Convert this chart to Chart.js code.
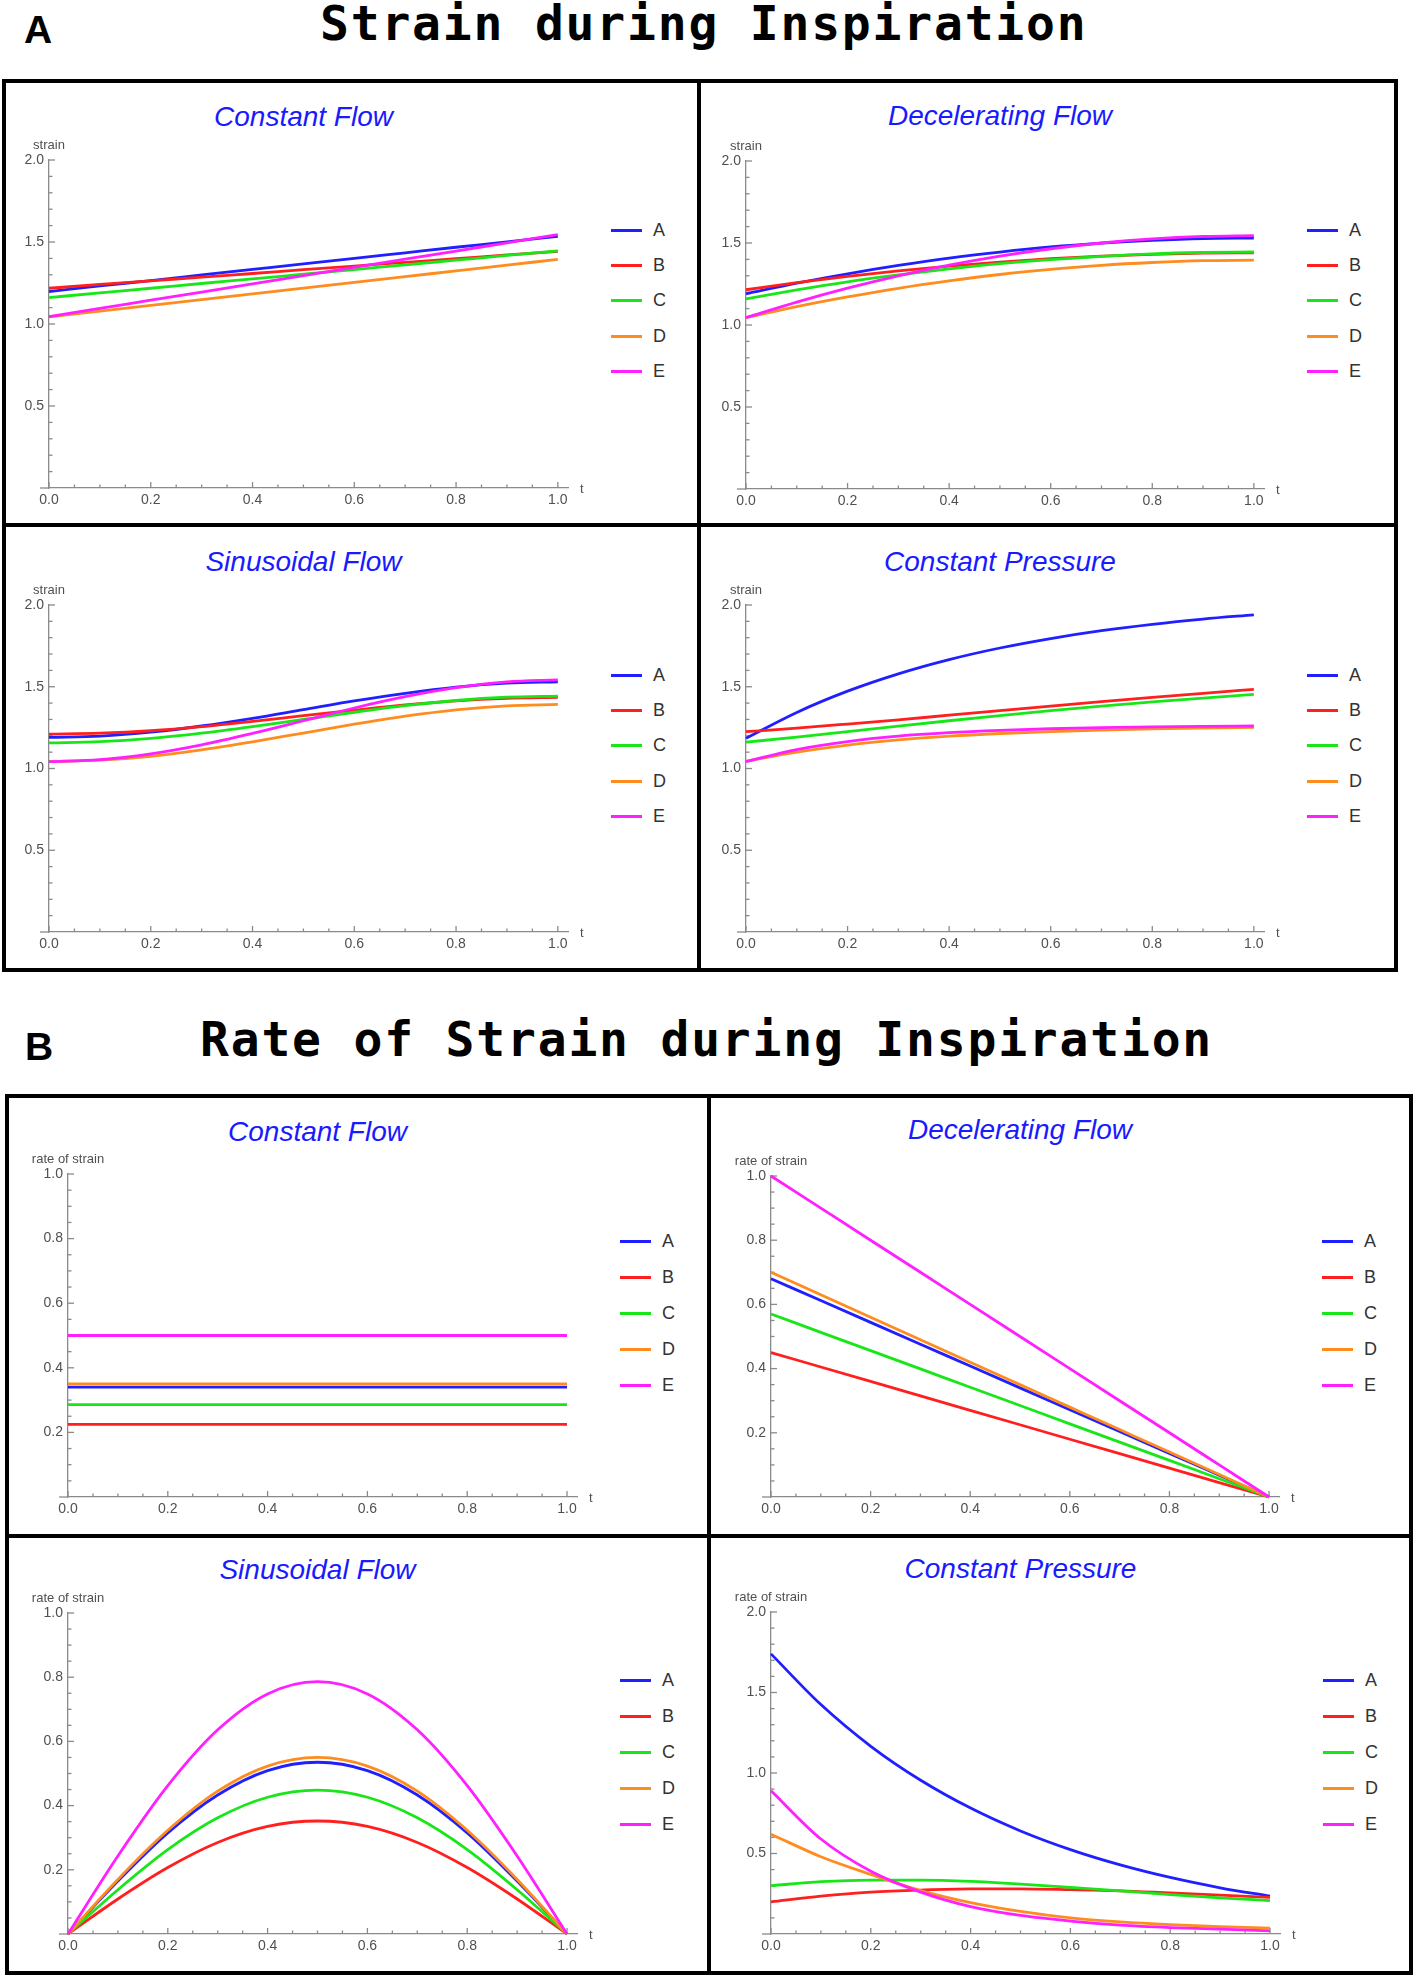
<!DOCTYPE html>
<html>
<head>
<meta charset="utf-8">
<script src="https://cdn.jsdelivr.net/npm/chart.js@4.4.1/dist/chart.umd.min.js"></script>
<style>
  body { margin: 0; width: 1416px; height: 1976px; position: relative; overflow: hidden; background: #fff; font-family: "Liberation Sans", Arial, sans-serif; }
  .fig-label { position: absolute; font: bold 39px/39px "Liberation Sans", Arial, sans-serif; color: #000; }
  .fig-title { position: absolute; font: bold 48px/48px "DejaVu Sans Mono", monospace; letter-spacing: 1.8px; white-space: nowrap; color: #000; }
  .frame { position: absolute; border: 4px solid #000; box-sizing: border-box; }
  .rule { position: absolute; background: #000; }
  .panel-title { position: absolute; font: italic 28px/28px "Liberation Sans", Arial, sans-serif; color: #1a1aff; white-space: nowrap; transform: translateX(-50%); }
  .legend-row { position: absolute; display: flex; align-items: center; font: 18px "Liberation Sans", Arial, sans-serif; color: #333; }
  .legend-row span { display: inline-block; width: 31px; height: 3px; margin-right: 11px; }
  canvas { position: absolute; }
</style>
</head>
<body>
<div class="fig-label" style="left:24px;top:10px">A</div>
<div class="fig-title" style="left:320px;top:-1px">Strain during Inspiration</div>
<div class="fig-label" style="left:25px;top:1027px">B</div>
<div class="fig-title" style="left:200px;top:1015px">Rate of Strain during Inspiration</div>

<div class="frame" style="left:2px;top:79px;width:1396px;height:893px"></div>
<div class="rule" style="left:697px;top:79px;width:4px;height:893px"></div>
<div class="rule" style="left:2px;top:523px;width:1396px;height:4px"></div>

<div class="frame" style="left:5px;top:1094px;width:1408px;height:881px"></div>
<div class="rule" style="left:707px;top:1094px;width:4px;height:881px"></div>
<div class="rule" style="left:5px;top:1534px;width:1408px;height:4px"></div>

<script>
// time samples shared by every curve
const tValues = [0, 0.1, 0.2, 0.3, 0.4, 0.5, 0.6, 0.7, 0.8, 0.9, 1.0];
const seriesNames = ['A', 'B', 'C', 'D', 'E'];

// strain, rows A..E
const strainConstantFlow = [
  [1.198, 1.232, 1.265, 1.299, 1.333, 1.367, 1.400, 1.434, 1.468, 1.501, 1.535],
  [1.218, 1.241, 1.263, 1.286, 1.308, 1.331, 1.353, 1.376, 1.398, 1.421, 1.443],
  [1.161, 1.190, 1.218, 1.247, 1.275, 1.304, 1.332, 1.361, 1.389, 1.418, 1.446],
  [1.044, 1.079, 1.114, 1.149, 1.184, 1.219, 1.254, 1.289, 1.324, 1.359, 1.394],
  [1.045, 1.095, 1.145, 1.195, 1.245, 1.295, 1.345, 1.395, 1.445, 1.495, 1.545]
];
const strainDeceleratingFlow = [
  [1.190, 1.255, 1.312, 1.363, 1.408, 1.445, 1.476, 1.499, 1.516, 1.527, 1.530],
  [1.215, 1.258, 1.296, 1.330, 1.359, 1.384, 1.404, 1.420, 1.431, 1.438, 1.440],
  [1.160, 1.214, 1.263, 1.305, 1.342, 1.374, 1.399, 1.419, 1.434, 1.442, 1.445],
  [1.045, 1.112, 1.171, 1.224, 1.269, 1.308, 1.339, 1.364, 1.381, 1.392, 1.395],
  [1.045, 1.140, 1.225, 1.300, 1.365, 1.420, 1.465, 1.500, 1.525, 1.540, 1.545]
];
const strainSinusoidalFlow = [
  [1.190, 1.198, 1.222, 1.260, 1.307, 1.360, 1.413, 1.460, 1.498, 1.522, 1.530],
  [1.210, 1.216, 1.231, 1.256, 1.288, 1.323, 1.357, 1.389, 1.414, 1.429, 1.435],
  [1.157, 1.164, 1.184, 1.216, 1.256, 1.300, 1.344, 1.384, 1.416, 1.436, 1.443],
  [1.042, 1.051, 1.075, 1.114, 1.163, 1.217, 1.271, 1.320, 1.359, 1.383, 1.392],
  [1.042, 1.054, 1.090, 1.145, 1.215, 1.292, 1.370, 1.439, 1.494, 1.530, 1.542]
];
const strainConstantPressure = [
  [1.185, 1.343, 1.473, 1.579, 1.666, 1.737, 1.795, 1.843, 1.882, 1.914, 1.940],
  [1.225, 1.247, 1.272, 1.298, 1.326, 1.354, 1.382, 1.409, 1.435, 1.460, 1.484],
  [1.161, 1.192, 1.225, 1.259, 1.292, 1.324, 1.354, 1.382, 1.407, 1.431, 1.453],
  [1.045, 1.100, 1.143, 1.175, 1.198, 1.214, 1.226, 1.235, 1.242, 1.247, 1.251],
  [1.042, 1.116, 1.165, 1.198, 1.219, 1.233, 1.243, 1.250, 1.255, 1.258, 1.260]
];

// rate of strain, rows A..E
const rateConstantFlow = [
  [0.34, 0.34, 0.34, 0.34, 0.34, 0.34, 0.34, 0.34, 0.34, 0.34, 0.34],
  [0.225, 0.225, 0.225, 0.225, 0.225, 0.225, 0.225, 0.225, 0.225, 0.225, 0.225],
  [0.286, 0.286, 0.286, 0.286, 0.286, 0.286, 0.286, 0.286, 0.286, 0.286, 0.286],
  [0.35, 0.35, 0.35, 0.35, 0.35, 0.35, 0.35, 0.35, 0.35, 0.35, 0.35],
  [0.5, 0.5, 0.5, 0.5, 0.5, 0.5, 0.5, 0.5, 0.5, 0.5, 0.5]
];
const rateDeceleratingFlow = [
  [0.68, 0.612, 0.544, 0.476, 0.408, 0.34, 0.272, 0.204, 0.136, 0.068, 0],
  [0.45, 0.405, 0.36, 0.315, 0.27, 0.225, 0.18, 0.135, 0.09, 0.045, 0],
  [0.57, 0.513, 0.456, 0.399, 0.342, 0.285, 0.228, 0.171, 0.114, 0.057, 0],
  [0.70, 0.63, 0.56, 0.49, 0.42, 0.35, 0.28, 0.21, 0.14, 0.07, 0],
  [1.0, 0.9, 0.8, 0.7, 0.6, 0.5, 0.4, 0.3, 0.2, 0.1, 0]
];
const rateSinusoidalFlow = [
  [0, 0.165, 0.315, 0.433, 0.509, 0.535, 0.509, 0.433, 0.315, 0.165, 0],
  [0, 0.109, 0.207, 0.285, 0.335, 0.352, 0.335, 0.285, 0.207, 0.109, 0],
  [0, 0.138, 0.263, 0.362, 0.426, 0.448, 0.426, 0.362, 0.263, 0.138, 0],
  [0, 0.170, 0.323, 0.445, 0.523, 0.550, 0.523, 0.445, 0.323, 0.170, 0],
  [0, 0.243, 0.462, 0.636, 0.748, 0.786, 0.748, 0.636, 0.462, 0.243, 0]
];
const rateConstantPressure = [
  [1.74, 1.425, 1.166, 0.955, 0.782, 0.640, 0.524, 0.429, 0.351, 0.287, 0.235],
  [0.20, 0.235, 0.26, 0.273, 0.28, 0.28, 0.275, 0.268, 0.255, 0.242, 0.228],
  [0.30, 0.325, 0.335, 0.335, 0.327, 0.31, 0.29, 0.268, 0.245, 0.225, 0.207],
  [0.62, 0.48, 0.37, 0.27, 0.195, 0.14, 0.10, 0.075, 0.058, 0.046, 0.037],
  [0.89, 0.59, 0.39, 0.26, 0.17, 0.115, 0.08, 0.055, 0.04, 0.03, 0.02]
];

const panelTitles = ['Constant Flow', 'Decelerating Flow', 'Sinusoidal Flow', 'Constant Pressure',
                     'Constant Flow', 'Decelerating Flow', 'Sinusoidal Flow', 'Constant Pressure'];
const panelSeries = [strainConstantFlow, strainDeceleratingFlow, strainSinusoidalFlow, strainConstantPressure,
                     rateConstantFlow, rateDeceleratingFlow, rateSinusoidalFlow, rateConstantPressure];
const yAxisTitles = ['strain', 'strain', 'strain', 'strain',
                     'rate of strain', 'rate of strain', 'rate of strain', 'rate of strain'];
const yAxisMax = [2, 2, 2, 2, 1, 1, 1, 2];
const yMajorStep = [0.5, 0.5, 0.5, 0.5, 0.2, 0.2, 0.2, 0.5];
const yMinorStep = [0.1, 0.1, 0.1, 0.1, 0.05, 0.05, 0.05, 0.1];
const tMajorStep = 0.2;
const tMinorStep = 0.05;

// styling / placement
const lineColors = ['#1f1fff', '#ff1f1f', '#19e619', '#ff8c1f', '#ff1fff'];
const axisColor = '#8a8a8a';
const labelColor = '#505050';
const frames = [
  { x0: 49,  x1: 558,  yTop: 160,  y0: 488,  titleBase: 127,  legendMid: 301,  rowH: 35.4 },
  { x0: 746, x1: 1254, yTop: 161,  y0: 489,  titleBase: 126,  legendMid: 301,  rowH: 35.4 },
  { x0: 49,  x1: 558,  yTop: 605,  y0: 932,  titleBase: 572,  legendMid: 746,  rowH: 35.4 },
  { x0: 746, x1: 1254, yTop: 605,  y0: 932,  titleBase: 572,  legendMid: 746,  rowH: 35.4 },
  { x0: 68,  x1: 567,  yTop: 1174, y0: 1497, titleBase: 1142, legendMid: 1313, rowH: 36 },
  { x0: 771, x1: 1269, yTop: 1176, y0: 1497, titleBase: 1140, legendMid: 1313, rowH: 36 },
  { x0: 68,  x1: 567,  yTop: 1613, y0: 1934, titleBase: 1580, legendMid: 1752, rowH: 36 },
  { x0: 771, x1: 1270, yTop: 1612, y0: 1934, titleBase: 1579, legendMid: 1752, rowH: 36 }
];
const ML = 60, MT = 26, MR = 25, MB = 30;
const T_END = 1.02;

// inward Mathematica-style ticks plus axis captions
const axisDecor = {
  id: 'axisDecor',
  beforeDatasetsDraw(chart, args, opts) {
    const { ctx, chartArea: { left, right, top, bottom }, scales: { x, y } } = chart;
    ctx.save();
    ctx.strokeStyle = axisColor;
    ctx.lineWidth = 1.3;
    const nt = Math.round(1 / tMinorStep), tEvery = Math.round(tMajorStep / tMinorStep);
    for (let i = 0; i <= nt; i++) {
      const px = x.getPixelForValue(i * tMinorStep);
      const len = i % tEvery === 0 ? 6 : 3.5;
      ctx.beginPath(); ctx.moveTo(px, bottom); ctx.lineTo(px, bottom - len); ctx.stroke();
    }
    const ny = Math.round(y.max / opts.minor), yEvery = Math.round(opts.major / opts.minor);
    for (let i = 1; i <= ny; i++) {
      const py = y.getPixelForValue(i * opts.minor);
      const len = i % yEvery === 0 ? 6 : 3.5;
      ctx.beginPath(); ctx.moveTo(left, py); ctx.lineTo(left + len, py); ctx.stroke();
    }
    ctx.beginPath(); ctx.moveTo(left - 9, bottom); ctx.lineTo(left, bottom); ctx.stroke();
    ctx.fillStyle = labelColor;
    ctx.font = '13px "Liberation Sans", Arial, sans-serif';
    ctx.textAlign = 'center';
    ctx.fillText(opts.yLabel, left, top - 11);
    ctx.textAlign = 'left';
    ctx.fillText('t', right + 12, bottom + 5);
    ctx.restore();
  }
};

const makePanel = (i) => {
  const f = frames[i];
  const plotW = Math.round((f.x1 - f.x0) * T_END);
  const canvas = document.createElement('canvas');
  canvas.width = ML + plotW + MR;
  canvas.height = MT + (f.y0 - f.yTop) + MB;
  canvas.style.left = (f.x0 - ML) + 'px';
  canvas.style.top = (f.yTop - MT) + 'px';
  document.body.appendChild(canvas);

  const title = document.createElement('div');
  title.className = 'panel-title';
  title.style.left = ((f.x0 + f.x1) / 2) + 'px';
  title.style.top = (f.titleBase - 23.6) + 'px';
  title.textContent = panelTitles[i];
  document.body.appendChild(title);

  seriesNames.forEach((name, k) => {
    const row = document.createElement('div');
    row.className = 'legend-row';
    row.style.left = (f.x1 + 53) + 'px';
    row.style.top = (f.legendMid + (k - 2) * f.rowH - f.rowH / 2) + 'px';
    row.style.height = f.rowH + 'px';
    row.innerHTML = `<span style="background-color:${lineColors[k]}"></span>${name}`;
    document.body.appendChild(row);
  });

  const tickFont = { family: '"Liberation Sans", Arial, sans-serif', size: 14 };
  new Chart(canvas, {
    type: 'line',
    data: {
      datasets: panelSeries[i].map((vals, k) => ({
        label: seriesNames[k],
        data: tValues.map((t, j) => ({ x: t, y: vals[j] })),
        borderColor: lineColors[k],
        borderWidth: 2.8,
        pointRadius: 0,
        cubicInterpolationMode: 'monotone',
        clip: false,
        order: seriesNames.length - k
      }))
    },
    options: {
      responsive: false,
      animation: false,
      devicePixelRatio: 1,
      layout: { padding: { left: 0, top: MT, right: MR, bottom: 0 } },
      plugins: {
        legend: { display: false },
        tooltip: { enabled: false },
        axisDecor: { yLabel: yAxisTitles[i], major: yMajorStep[i], minor: yMinorStep[i] }
      },
      scales: {
        x: {
          type: 'linear', min: 0, max: T_END,
          border: { color: axisColor, width: 1.3 },
          grid: { display: false, drawTicks: false },
          ticks: { stepSize: tMajorStep, includeBounds: false, padding: 4, color: labelColor, font: tickFont,
                   maxRotation: 0, autoSkip: false, callback: v => v.toFixed(1) },
          afterFit: s => { s.height = MB; }
        },
        y: {
          type: 'linear', min: 0, max: yAxisMax[i],
          border: { color: axisColor, width: 1.3 },
          grid: { display: false, drawTicks: false },
          ticks: { stepSize: yMajorStep[i], padding: 5, color: labelColor, font: tickFont,
                   autoSkip: false, callback: v => v === 0 ? '' : v.toFixed(1) },
          afterFit: s => { s.width = ML; }
        }
      }
    },
    plugins: [axisDecor]
  });
};

panelTitles.forEach((_, i) => makePanel(i));
</script>
</body>
</html>
